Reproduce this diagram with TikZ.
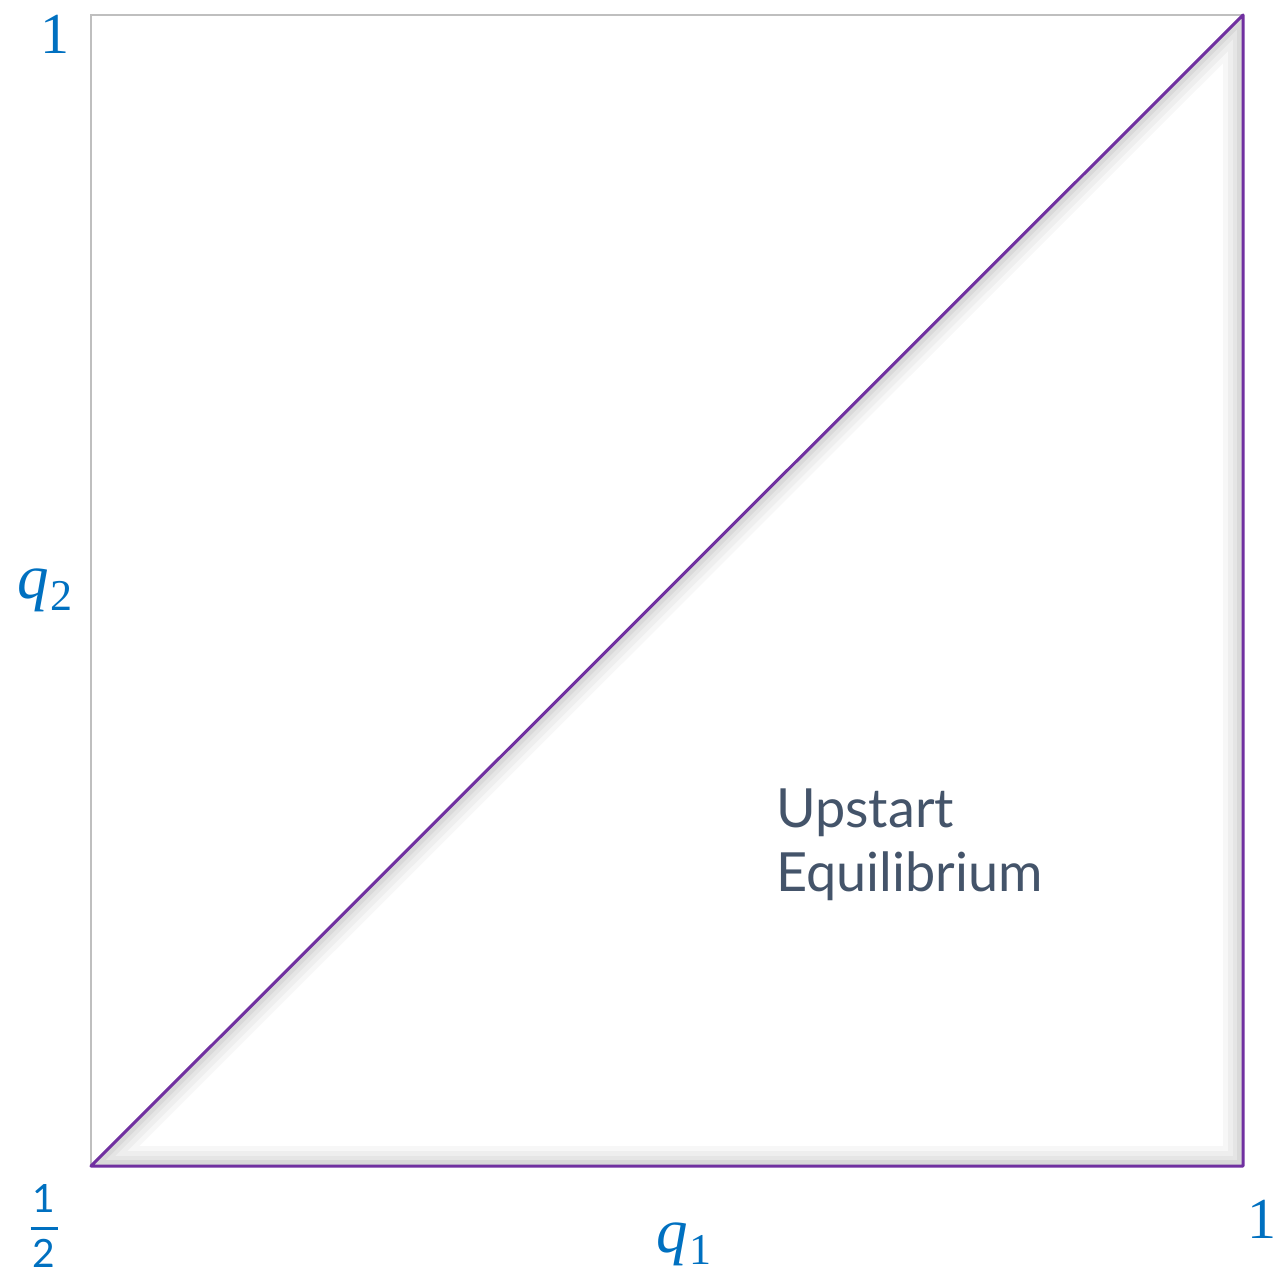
\documentclass[tikz,border=0pt]{standalone}
\usepackage{fontspec}
\setmainfont{Liberation Serif}
\newfontfamily\labelsans{Lato}
\definecolor{lblblue}{HTML}{0070C0}
\definecolor{triline}{HTML}{7030A0}
\definecolor{boxgray}{HTML}{BFBFBF}
\definecolor{txtgray}{HTML}{44546A}
\begin{document}
\begin{tikzpicture}[x=1pt,y=-1pt,
  axlabel/.style={text=lblblue,inner sep=0pt,font=\fontsize{58}{60}\selectfont},
  qlabel/.style={text=lblblue,inner sep=0pt,font=\fontsize{63}{64}\selectfont},
  fracdigit/.style={text=lblblue,inner sep=0pt,font=\labelsans\fontsize{39}{40}\selectfont},
  triedge/.style={draw=triline,line width=3pt,line cap=round,line join=round},
  boxedge/.style={draw=boxgray,line width=1.6pt}]
\useasboundingbox (0,0) rectangle (1281,1282);
\coordinate (bl) at (91,1166);
\coordinate (tl) at (91,15);
\coordinate (tr) at (1243,15);
\coordinate (br) at (1243,1166);
% gray square
\draw[boxedge] (bl) -- (tl) -- (tr);
% inner shadow
\begin{scope}
\clip (bl) -- (tr) -- (br) -- cycle;
\foreach \w/\o in {40/0.03,30/0.035,20/0.04,12/0.05}{
  \draw[black,opacity=\o,line width=\w pt,line join=round] (bl) -- (tr) -- (br) -- cycle;
}
\end{scope}
% purple triangle
\draw[triedge] (bl) -- (tr) -- (br) -- cycle;
% labels
\node[axlabel] (one2) at (55,34) {1};
\node[qlabel] (q2) at (45,590) {\textit{q}\kern1pt\raisebox{-0.2em}{\fontsize{44}{46}\selectfont 2}};
\node[fracdigit,anchor=base] (halfnum) at (44,1212) {1};
\node[fracdigit,anchor=base] (halfden) at (44,1267) {2};
\coordinate (barl) at (30.5,1228);
\coordinate (barr) at (57.5,1228);
\draw[draw=lblblue,line width=3pt] (barl) -- (barr);
\node[qlabel] (q1) at (684,1244) {\textit{q}\kern1pt\raisebox{-0.2em}{\fontsize{44}{46}\selectfont 1}};
\node[axlabel] (one1) at (1262,1219) {1};
\node[text=txtgray,inner sep=0pt,anchor=north west,align=left,
  font=\labelsans\fontsize{54}{64}\selectfont] (ue) at (776,789) {Upstart\\Equilibrium};
\end{tikzpicture}
\end{document}
